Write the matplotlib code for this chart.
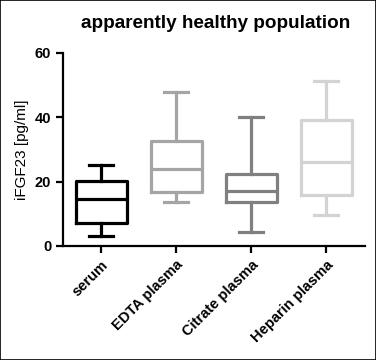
import matplotlib
matplotlib.use("Agg")
import matplotlib.pyplot as plt
from matplotlib.patches import Rectangle

plt.rcParams["font.family"] = ["Liberation Sans", "DejaVu Sans"]

# box statistics
groups = ["serum", "EDTA plasma", "Citrate plasma", "Heparin plasma"]
whislo = [3.1, 13.6, 4.4, 9.7]
q1 = [7.2, 16.9, 13.8, 16.0]
med = [14.6, 23.9, 17.1, 26.0]
q3 = [20.1, 32.6, 22.4, 39.1]
whishi = [25.2, 47.8, 40.0, 51.2]
colors = ["#000000", "#a5a5a8", "#808080", "#d3d3d3"]

stats = []
for i, g in enumerate(groups):
    stats.append({"label": g, "whislo": whislo[i], "q1": q1[i], "med": med[i],
                  "q3": q3[i], "whishi": whishi[i], "fliers": []})

fig = plt.figure(figsize=(3.76, 3.6), dpi=100)
ax = fig.add_axes([0.1676, 0.3167, 0.8034, 0.5363])

lw = 2.3
for i, s in enumerate(stats):
    c = colors[i]
    ax.bxp([s], positions=[i + 1], widths=0.68, showfliers=False,
           boxprops=dict(color=c, linewidth=lw),
           medianprops=dict(color=c, linewidth=lw),
           whiskerprops=dict(color=c, linewidth=lw),
           capprops=dict(color=c, linewidth=lw),
           capwidths=0.32, manage_ticks=False)

ax.set_xlim(0.49, 4.52)
ax.set_ylim(0, 60)
ax.set_yticks([0, 20, 40, 60])
ax.set_xticks([1, 2, 3, 4])
ax.set_xticklabels(groups, rotation=45, ha="right", rotation_mode="anchor",
                   fontweight="bold", fontsize=10.5)
for lab in ax.get_yticklabels():
    lab.set_fontweight("bold")
    lab.set_fontsize(10.5)
ax.tick_params(width=1.6, length=5)
ax.spines["top"].set_visible(False)
ax.spines["right"].set_visible(False)
ax.spines["left"].set_linewidth(1.6)
ax.spines["bottom"].set_linewidth(1.6)
ax.set_ylabel("iFGF23 [pg/ml]", fontsize=11)
fig.text(216 / 376, 1 - 24 / 360, "apparently healthy population",
         fontsize=13.6, fontweight="bold", ha="center", va="center")

fig.patches.append(Rectangle((0, 0), 1, 1, transform=fig.transFigure,
                             fill=False, edgecolor="black", linewidth=1.2))

fig.savefig("out.png", dpi=100)
